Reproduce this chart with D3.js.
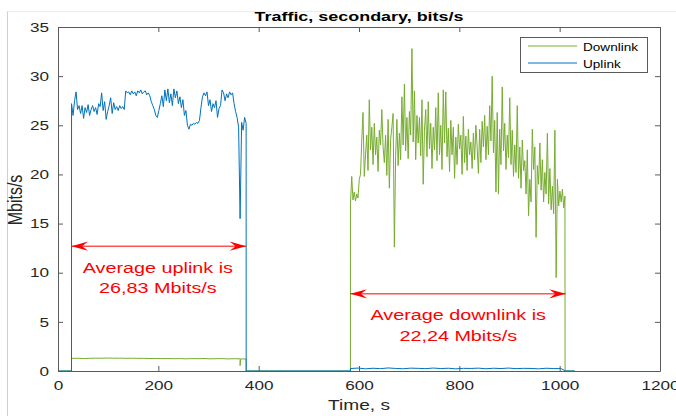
<!DOCTYPE html>
<html><head><meta charset="utf-8">
<script src="https://cdn.jsdelivr.net/npm/d3@7"></script>
<style>
body{margin:0;background:#fff}
svg{display:block}
text{font-family:"Liberation Sans",Arial,Helvetica,sans-serif}
</style>
</head><body>
<svg id="c" width="676" height="416"></svg>
<script>
// ---------------- data ----------------
const chartTitle = "Traffic, secondary, bits/s";
const xLabel = "Time, s";
const yLabel = "Mbits/s";
const seriesNames = ["Downlink", "Uplink"];
const xTicks = [0, 200, 400, 600, 800, 1000, 1200];
const yTicks = [0, 5, 10, 15, 20, 25, 30, 35];
const xDomain = [0, 1200];
const yDomain = [0, 35];

// timing of the two test phases (s)
const uplinkStart = 27, uplinkStep = 3;        // uplink burst sampling
const downlinkStart = 583, downlinkStep = 2.5; // downlink burst sampling
const idleDownStep = 12;                        // downlink idle during uplink phase
const idleUpStep = 15;                          // uplink idle during downlink phase
const recordEnd = 1030;

// uplink rate during the uplink phase, Mbit/s (t = 27, 30, ... 375)
const uplinkBurst = [
  27.2, 26.0, 27.5, 28.4, 26.6, 27.0,
  26.2, 27.0, 25.7, 26.8, 26.3, 27.1, 26.0, 26.6, 27.0, 26.4, 26.8, 26.1, 27.2,
  26.9, 28.3, 26.5, 27.4, 25.6, 26.4, 27.0, 27.8, 26.2, 27.3, 26.6, 26.9, 26.5, 27.0, 26.7, 26.9, 26.6,
  28.5, 28.3, 28.4, 28.1, 28.5, 28.2, 28.4, 28.0, 28.5, 28.3, 28.6, 28.2, 28.4, 28.5, 28.1, 28.3,
  28.0, 27.4, 27.0, 26.6, 26.0, 25.8, 26.5,
  27.2, 28.0, 26.9, 28.6, 27.5, 28.7, 27.3, 28.2, 27.0, 28.7, 27.8, 28.5, 27.2, 27.9, 26.8, 27.6, 26.0, 26.5,
  25.0, 24.6, 25.1, 25.0, 25.2, 25.1, 25.3, 25.2, 25.5,
  26.8, 27.9, 28.3, 28.0, 28.4,
  27.0, 27.6, 26.4, 27.2, 26.8, 27.5, 25.8, 26.7, 27.0,
  28.6, 28.3, 27.5, 28.2, 27.8, 28.4, 28.1, 28.3,
  27.2, 26.4, 25.8, 24.8, 15.5, 25.3, 24.5, 25.8, 25.2
];

// downlink rate during the downlink phase, Mbit/s (t = 583, 585.5, ... 1010.5)
const downlinkBurst = [
  17.0, 19.8, 17.4, 18.2, 17.3, 18.0, 17.6,
  19.5, 20.0, 23.5, 26.3, 19.8, 22.0,
  24.0, 20.4, 27.6, 22.5, 24.8, 21.0,
  25.2, 22.0, 23.8, 20.3, 24.5, 23.0,
  26.6, 22.8, 21.2, 24.0, 19.9, 25.6,
  18.6, 23.5, 24.8, 26.2, 12.6, 21.8,
  25.6, 20.9, 24.2, 21.5, 27.9, 23.0,
  29.2, 22.4, 25.8, 21.6, 26.4, 24.0,
  32.8, 23.3, 28.5, 21.5, 26.0, 23.2,
  25.8, 21.9, 27.6, 19.0, 24.5, 26.6,
  21.8, 27.4, 22.6, 25.2, 20.6, 24.8,
  22.5, 26.8, 21.4, 28.3, 22.0, 25.0,
  20.5, 28.6, 23.2, 28.4, 21.8, 24.7,
  20.3, 25.5, 22.0, 24.8, 19.6, 23.8,
  21.0, 25.1, 22.6, 24.0, 20.0, 25.9,
  21.2, 23.9, 20.4, 24.6, 22.0, 23.3,
  20.6, 24.2, 21.5, 25.0, 22.8, 20.1,
  24.6, 21.2, 25.4, 22.8, 26.0, 21.5,
  24.9, 22.0, 27.0, 23.4, 30.0, 22.2,
  25.5, 18.2, 26.3, 18.0, 24.6, 21.0,
  28.9, 22.4, 25.2, 20.5, 24.0, 21.7,
  27.8, 21.0, 24.5, 19.8, 23.0, 20.2,
  27.0, 19.6, 22.8, 18.6, 23.5, 20.4,
  21.4, 18.0, 22.5, 15.8, 19.5, 17.2,
  24.6, 20.5, 22.8, 13.6, 20.9, 19.0,
  23.2, 18.4, 21.5, 17.2, 20.2, 18.0,
  24.2, 17.0, 20.6, 16.4, 18.8, 16.0,
  24.5, 9.5, 19.5, 16.8, 18.3, 17.2,
  18.5, 16.6, 17.8
];

// downlink (ACK) traffic during the uplink phase (t = 27, 39, ... 375)
const downlinkIdle = [1.28, 1.30, 1.27, 1.29, 1.31, 1.30, 1.32, 1.30, 1.31, 1.29,
  1.30, 1.28, 1.29, 1.27, 1.28, 1.26, 1.27, 1.25, 1.26, 1.24,
  1.26, 1.25, 1.27, 1.24, 1.25, 1.26, 1.23, 1.25, 1.24, 1.22];
// short drop of the downlink ACK traffic
const downlinkIdleDip = [[362, 1.24], [363, 0.55], [364, 1.23]];

// uplink (ACK) traffic during the downlink phase (t = 583, 598, ... 1003)
const uplinkIdle = [0.25, 0.30, 0.22, 0.28, 0.24, 0.31, 0.26, 0.23, 0.29, 0.27,
  0.24, 0.30, 0.25, 0.28, 0.22, 0.27, 0.26, 0.29, 0.23, 0.28,
  0.25, 0.30, 0.24, 0.27, 0.26, 0.22, 0.28, 0.25, 0.24];

// annotations
const uplinkAvgText = ["Average uplink is", "26,83 Mbits/s"];
const downlinkAvgText = ["Average downlink is", "22,24 Mbits/s"];

// ---------------- build series ----------------
const upEnd = uplinkStart + uplinkStep * (uplinkBurst.length - 1);
const dlEnd = downlinkStart + downlinkStep * (downlinkBurst.length - 1);

const uplinkPts = [[0, 0], [uplinkStart - 0.1, 0]]
  .concat(uplinkBurst.map((v, i) => [uplinkStart + i * uplinkStep, v]))
  .concat([[upEnd + 0.1, 0], [downlinkStart - 0.1, 0]])
  .concat(uplinkIdle.map((v, i) => [downlinkStart + i * idleUpStep, v]))
  .concat([[dlEnd + 1.5, 0], [recordEnd, 0]]);

const downlinkPts = [[0, 0], [uplinkStart - 0.1, 0]]
  .concat(downlinkIdle.map((v, i) => [uplinkStart + i * idleDownStep, v]).concat(downlinkIdleDip)
    .sort((a, b) => a[0] - b[0]))
  .concat([[upEnd + 0.1, 0], [downlinkStart - 0.1, 0]])
  .concat(downlinkBurst.map((v, i) => [downlinkStart + i * downlinkStep, v]))
  .concat([[dlEnd + 0.3, 0], [recordEnd, 0]]);

// ---------------- drawing ----------------
const W = 676, H = 416;
const M = {left: 58, right: 660, top: 27, bottom: 371};
const SX = 1.32; // horizontal stretch of the reference text
const cBlue = "#0072BD", cGreen = "#77AC30", cAxis = "#5a5a5a", cText = "#262626", cRed = "#FF0000";

const svg = d3.select("#c");
const x = d3.scaleLinear().domain(xDomain).range([M.left, M.right]);
const y = d3.scaleLinear().domain(yDomain).range([M.bottom, M.top]);

// faint figure frame from the screenshot
svg.append("line").attr("x1", 7.5).attr("x2", W).attr("y1", 11.5).attr("y2", 11.5).attr("stroke", "#ececec");
svg.append("line").attr("x1", 7.5).attr("x2", 7.5).attr("y1", 11.5).attr("y2", H).attr("stroke", "#cfcfcf");

const line = d3.line().x(d => x(d[0])).y(d => y(d[1]));
const plot = svg.append("g");
plot.append("path").datum(downlinkPts).attr("d", line).attr("fill", "none")
  .attr("stroke", cGreen).attr("stroke-width", 1).attr("stroke-linejoin", "round");
plot.append("path").datum(uplinkPts).attr("d", line).attr("fill", "none")
  .attr("stroke", cBlue).attr("stroke-width", 1).attr("stroke-linejoin", "round");

function styleAxis(g) {
  g.selectAll("path.domain").attr("stroke", cAxis);
  g.selectAll(".tick line").attr("stroke", cAxis);
  g.selectAll("text").attr("fill", cText).attr("font-size", 13)
    .attr("font-family", "'Liberation Sans', Arial, sans-serif");
}
const fmt = d3.format("d");
const gx = svg.append("g").attr("transform", `translate(0,${M.bottom})`)
  .call(d3.axisBottom(x).tickValues(xTicks).tickFormat(fmt).tickSizeInner(-5).tickSizeOuter(0).tickPadding(10));
styleAxis(gx);
gx.selectAll("text").attr("transform", `scale(${SX},1)`);
const gxt = svg.append("g").attr("transform", `translate(0,${M.top})`)
  .call(d3.axisTop(x).tickValues(xTicks).tickSizeInner(-5).tickSizeOuter(0).tickFormat(""));
styleAxis(gxt);
const gy = svg.append("g").attr("transform", `translate(${M.left},0)`)
  .call(d3.axisLeft(y).tickValues(yTicks).tickFormat(fmt).tickSizeInner(-5).tickSizeOuter(0).tickPadding(9 / SX));
styleAxis(gy);
gy.selectAll("text").attr("transform", `scale(${SX},1)`);
const gyr = svg.append("g").attr("transform", `translate(${M.right},0)`)
  .call(d3.axisRight(y).tickValues(yTicks).tickSizeInner(-5).tickSizeOuter(0).tickFormat(""));
styleAxis(gyr);

function label(str, px, py, size, opts = {}) {
  const t = svg.append("text")
    .attr("transform", `translate(${px},${py}) ${opts.rotate ? "rotate(-90) scale(1," + SX + ")" : "scale(" + SX + ",1)"}`)
    .attr("text-anchor", opts.anchor || "middle")
    .attr("font-size", size)
    .attr("fill", opts.fill || cText)
    .text(str);
  if (opts.bold) t.attr("font-weight", "bold");
  return t;
}
label(chartTitle, (M.left + M.right) / 2, 21, 13.6, {bold: true, fill: "#000"});
label(xLabel, (M.left + M.right) / 2, 410, 14.5);
label(yLabel, 22, (M.top + M.bottom) / 2 + 1, 16, {rotate: true});

// double arrows with averages
function dblArrow(t0, t1, level) {
  const x0 = x(t0), x1 = x(t1), yy = y(level);
  svg.append("line").attr("x1", x0).attr("x2", x1).attr("y1", yy).attr("y2", yy)
    .attr("stroke", cRed).attr("stroke-width", 1);
  const L = 16.5, Hh = 4.6, N = 10.5;
  svg.append("path").attr("fill", cRed)
    .attr("d", `M${x1},${yy} L${x1 - L},${yy - Hh} L${x1 - N},${yy} L${x1 - L},${yy + Hh} Z`);
  svg.append("path").attr("fill", cRed)
    .attr("d", `M${x0},${yy} L${x0 + L},${yy - Hh} L${x0 + N},${yy} L${x0 + L},${yy + Hh} Z`);
}
dblArrow(uplinkStart, upEnd, 12.7);
dblArrow(downlinkStart, dlEnd + 1.5, 7.85);

const upMid = x((uplinkStart + upEnd) / 2) - 1;
label(uplinkAvgText[0], upMid, y(9.94), 15, {fill: cRed});
label(uplinkAvgText[1], upMid, y(7.9), 15, {fill: cRed});
const dlMid = x((downlinkStart + dlEnd) / 2) + 0.5;
label(downlinkAvgText[0], dlMid, y(5.2), 15, {fill: cRed});
label(downlinkAvgText[1], dlMid, y(3.1), 15, {fill: cRed});

// legend
const lg = svg.append("g");
lg.append("rect").attr("x", 520.5).attr("y", 37.5).attr("width", 127).attr("height", 35)
  .attr("fill", "#fff").attr("stroke", cAxis);
[[cGreen, 46], [cBlue, 63]].forEach(([c, yy], i) => {
  lg.append("line").attr("x1", 528).attr("x2", 577).attr("y1", yy).attr("y2", yy)
    .attr("stroke", c).attr("stroke-width", 1);
  lg.append("text").attr("transform", `translate(583,${yy + 4.5}) scale(${SX},1)`)
    .attr("font-size", 10.3).attr("fill", "#000").text(seriesNames[i]);
});
</script>
</body></html>
